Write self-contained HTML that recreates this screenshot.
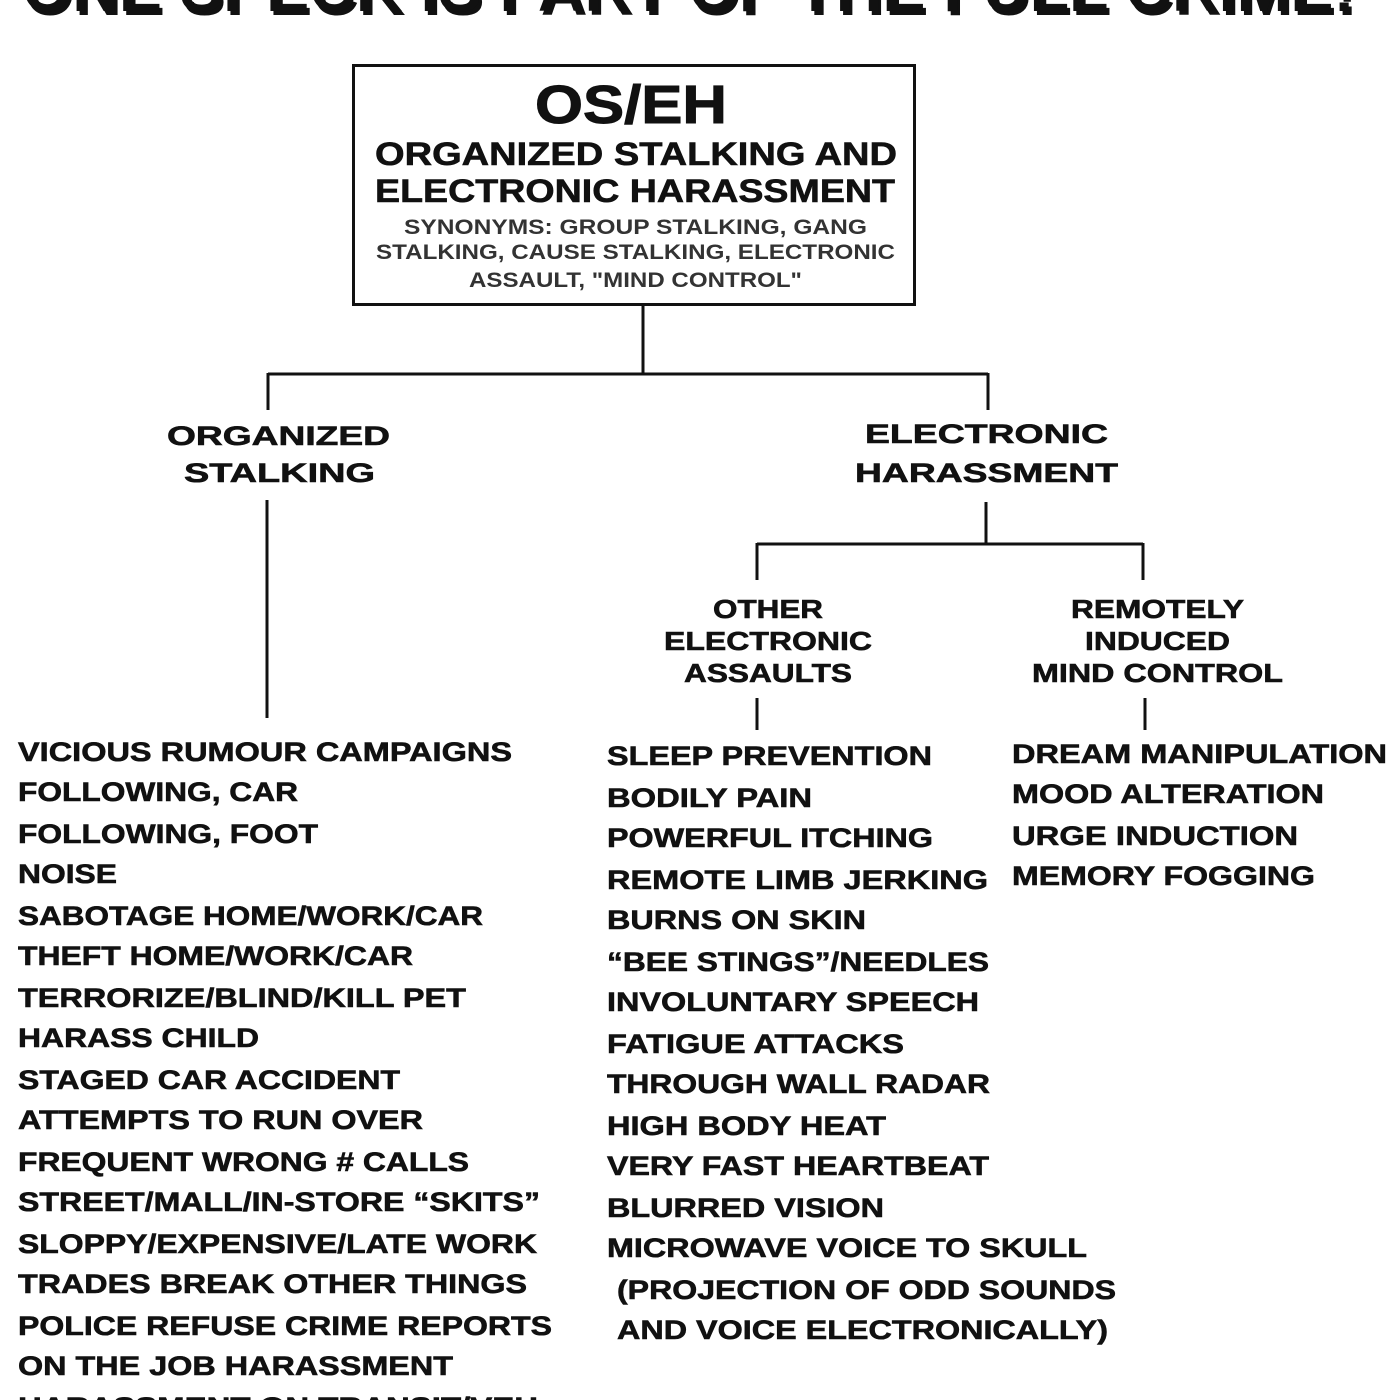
<!DOCTYPE html>
<html><head><meta charset="utf-8"><style>
html,body{margin:0;padding:0;background:#fff;width:1400px;height:1400px;overflow:hidden}
svg{display:block}
text{font-family:"Liberation Sans",Arial,sans-serif;font-weight:bold;fill:#111}
.b{font-size:27px;stroke:#111;stroke-width:0.6}
</style></head><body>
<svg width="1400" height="1400" viewBox="0 0 1400 1400" xmlns="http://www.w3.org/2000/svg">
<rect width="1400" height="1400" fill="#fff"/>
<text x="22" y="11" font-size="64" textLength="1333" lengthAdjust="spacingAndGlyphs" fill="#888" transform="translate(3,4)">ONE SPECK IS PART OF THE FULL CRIME!</text>
<text x="22" y="11" font-size="64" textLength="1333" lengthAdjust="spacingAndGlyphs">ONE SPECK IS PART OF THE FULL CRIME!</text>

<rect x="353.5" y="65.5" width="561" height="239" fill="none" stroke="#111" stroke-width="3"/>
<text x="631" y="123" font-size="54" text-anchor="middle" textLength="192" lengthAdjust="spacingAndGlyphs" stroke="#111" stroke-width="1">OS/EH</text>
<text x="375" y="165" font-size="32" textLength="522" lengthAdjust="spacingAndGlyphs" stroke="#111" stroke-width="0.6">ORGANIZED STALKING AND</text>
<text x="375" y="202" font-size="32" textLength="520" lengthAdjust="spacingAndGlyphs" stroke="#111" stroke-width="0.6">ELECTRONIC HARASSMENT</text>
<text x="404" y="234" font-size="21" textLength="463" lengthAdjust="spacingAndGlyphs" style="fill:#333">SYNONYMS:  GROUP STALKING, GANG</text>
<text x="376" y="259" font-size="21" textLength="519" lengthAdjust="spacingAndGlyphs" style="fill:#333">STALKING, CAUSE STALKING, ELECTRONIC</text>
<text x="469" y="287" font-size="21" textLength="333" lengthAdjust="spacingAndGlyphs" style="fill:#333">ASSAULT, "MIND CONTROL"</text>

<g stroke="#111" stroke-width="3" fill="none">
<path d="M643 305V374M268 374H988M268 373V410M988 373V410"/>
<path d="M267 500V718"/>
<path d="M986 502V544M757 544H1143M757 543V580M1143 543V580"/>
<path d="M757 698V730M1145 698V730"/>
</g>

<text x="167" y="445" class="b" font-size="30" textLength="223" lengthAdjust="spacingAndGlyphs">ORGANIZED</text>
<text x="184" y="482" class="b" font-size="30" textLength="191" lengthAdjust="spacingAndGlyphs">STALKING</text>
<text x="865" y="443" class="b" font-size="30" textLength="243" lengthAdjust="spacingAndGlyphs">ELECTRONIC</text>
<text x="855" y="482" class="b" font-size="30" textLength="263" lengthAdjust="spacingAndGlyphs">HARASSMENT</text>

<g class="b">
<text x="713" y="618" font-size="26" textLength="110" lengthAdjust="spacingAndGlyphs">OTHER</text>
<text x="664" y="650" font-size="26" textLength="208" lengthAdjust="spacingAndGlyphs">ELECTRONIC</text>
<text x="684" y="682" font-size="26" textLength="168" lengthAdjust="spacingAndGlyphs">ASSAULTS</text>
<text x="1071" y="618" font-size="26" textLength="173" lengthAdjust="spacingAndGlyphs">REMOTELY</text>
<text x="1085" y="650" font-size="26" textLength="145" lengthAdjust="spacingAndGlyphs">INDUCED</text>
<text x="1032" y="682" font-size="26" textLength="251" lengthAdjust="spacingAndGlyphs">MIND CONTROL</text>
</g>

<g class="b" font-size="27">
<text x="18" y="761" textLength="494" lengthAdjust="spacingAndGlyphs">VICIOUS RUMOUR CAMPAIGNS</text>
<text x="18" y="801" textLength="280" lengthAdjust="spacingAndGlyphs">FOLLOWING, CAR</text>
<text x="18" y="843" textLength="300" lengthAdjust="spacingAndGlyphs">FOLLOWING, FOOT</text>
<text x="18" y="883" textLength="99" lengthAdjust="spacingAndGlyphs">NOISE</text>
<text x="18" y="925" textLength="465" lengthAdjust="spacingAndGlyphs">SABOTAGE HOME/WORK/CAR</text>
<text x="18" y="965" textLength="395" lengthAdjust="spacingAndGlyphs">THEFT HOME/WORK/CAR</text>
<text x="18" y="1007" textLength="448" lengthAdjust="spacingAndGlyphs">TERRORIZE/BLIND/KILL PET</text>
<text x="18" y="1047" textLength="241" lengthAdjust="spacingAndGlyphs">HARASS CHILD</text>
<text x="18" y="1089" textLength="382" lengthAdjust="spacingAndGlyphs">STAGED CAR ACCIDENT</text>
<text x="18" y="1129" textLength="405" lengthAdjust="spacingAndGlyphs">ATTEMPTS TO RUN OVER</text>
<text x="18" y="1171" textLength="451" lengthAdjust="spacingAndGlyphs">FREQUENT WRONG # CALLS</text>
<text x="18" y="1211" textLength="522" lengthAdjust="spacingAndGlyphs">STREET/MALL/IN-STORE “SKITS”</text>
<text x="18" y="1253" textLength="519" lengthAdjust="spacingAndGlyphs">SLOPPY/EXPENSIVE/LATE WORK</text>
<text x="18" y="1293" textLength="509" lengthAdjust="spacingAndGlyphs">TRADES BREAK OTHER THINGS</text>
<text x="18" y="1335" textLength="534" lengthAdjust="spacingAndGlyphs">POLICE REFUSE CRIME REPORTS</text>
<text x="18" y="1375" textLength="435" lengthAdjust="spacingAndGlyphs">ON THE JOB HARASSMENT</text>
<text x="18" y="1416" textLength="520" lengthAdjust="spacingAndGlyphs">HARASSMENT ON TRANSIT/VEH</text>

<text x="607" y="765" textLength="325" lengthAdjust="spacingAndGlyphs">SLEEP PREVENTION</text>
<text x="607" y="807" textLength="205" lengthAdjust="spacingAndGlyphs">BODILY PAIN</text>
<text x="607" y="847" textLength="326" lengthAdjust="spacingAndGlyphs">POWERFUL ITCHING</text>
<text x="607" y="889" textLength="381" lengthAdjust="spacingAndGlyphs">REMOTE LIMB JERKING</text>
<text x="607" y="929" textLength="259" lengthAdjust="spacingAndGlyphs">BURNS ON SKIN</text>
<text x="607" y="971" textLength="382" lengthAdjust="spacingAndGlyphs">“BEE STINGS”/NEEDLES</text>
<text x="607" y="1011" textLength="372" lengthAdjust="spacingAndGlyphs">INVOLUNTARY SPEECH</text>
<text x="607" y="1053" textLength="297" lengthAdjust="spacingAndGlyphs">FATIGUE ATTACKS</text>
<text x="607" y="1093" textLength="383" lengthAdjust="spacingAndGlyphs">THROUGH WALL RADAR</text>
<text x="607" y="1135" textLength="279" lengthAdjust="spacingAndGlyphs">HIGH BODY HEAT</text>
<text x="607" y="1175" textLength="382" lengthAdjust="spacingAndGlyphs">VERY FAST HEARTBEAT</text>
<text x="607" y="1217" textLength="277" lengthAdjust="spacingAndGlyphs">BLURRED VISION</text>
<text x="607" y="1257" textLength="480" lengthAdjust="spacingAndGlyphs">MICROWAVE VOICE TO SKULL</text>
<text x="617" y="1299" textLength="499" lengthAdjust="spacingAndGlyphs">(PROJECTION OF ODD SOUNDS</text>
<text x="617" y="1339" textLength="491" lengthAdjust="spacingAndGlyphs">AND VOICE ELECTRONICALLY)</text>

<text x="1012" y="763" textLength="375" lengthAdjust="spacingAndGlyphs">DREAM MANIPULATION</text>
<text x="1012" y="803" textLength="312" lengthAdjust="spacingAndGlyphs">MOOD ALTERATION</text>
<text x="1012" y="845" textLength="286" lengthAdjust="spacingAndGlyphs">URGE INDUCTION</text>
<text x="1012" y="885" textLength="303" lengthAdjust="spacingAndGlyphs">MEMORY FOGGING</text>
</g>
</svg>
</body></html>
